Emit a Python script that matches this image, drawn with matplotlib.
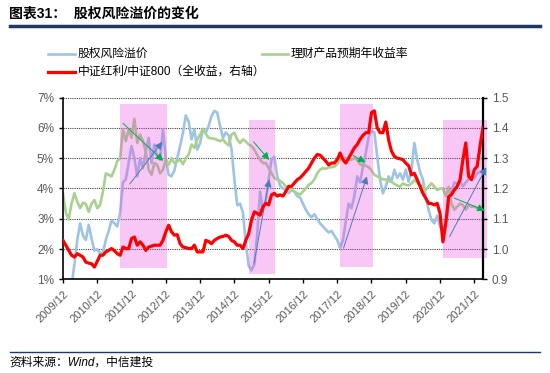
import numpy as np
import matplotlib.pyplot as plt
from matplotlib.lines import Line2D

plt.rcParams['font.family'] = ['Liberation Sans', 'Noto Sans CJK SC']

# monthly data, 2009/12 .. 2022/03
tick_labels = ["2009/12", "2010/12", "2011/12", "2012/12", "2013/12", "2014/12", "2015/12",
               "2016/12", "2017/12", "2018/12", "2019/12", "2020/12", "2021/12"]

# 股权风险溢价 (%)
erp = [0.2, 0.3, 0.5, 0.8, 1.5, 2.3, 2.85, 2.45, 2.3, 2.8,
       2.35, 1.95, 2.0, 1.85, 1.9, 2.3, 2.6, 2.95, 2.85, 2.75,
       3.2, 4.2, 4.3, 4.84, 5.4, 5.0, 4.4, 5.0, 4.67, 5.23,
       5.67, 4.84, 5.45, 5.06, 4.95, 5.95, 5.0, 4.45, 4.4, 4.6,
       5.0, 5.4, 5.84, 6.41, 6.2, 5.62, 5.95, 5.28, 5.5, 5.95,
       5.84, 6.06, 6.39, 6.56, 6.5, 6.06, 5.67, 5.85, 5.75, 5.3,
       4.3, 3.45, 3.5, 3.2, 2.2, 1.45, 1.3, 1.5, 2.5, 3.9,
       3.3, 3.6, 4.3, 4.95, 5.05, 4.4, 4.1, 4.0, 3.95, 3.85,
       3.95, 3.9, 3.75, 3.7, 3.5, 3.3, 3.15, 3.05, 3.15, 3.0,
       2.85, 2.75, 2.65, 2.55, 2.6, 2.45, 2.3, 2.05, 2.3, 2.9,
       3.5, 3.35, 3.75, 4.4, 4.2, 4.7, 5.17, 5.7, 5.9, 5.85,
       5.06, 4.29, 3.84, 4.07, 4.4, 4.23, 4.62, 4.35, 4.5, 4.29,
       4.62, 4.23, 4.6, 5.5, 4.95, 4.55, 4.3, 3.73, 3.29, 2.96,
       2.85, 3.1, 2.74, 2.57, 2.85, 3.4, 3.9, 4.2, 4.15, 4.25,
       4.07, 4.2, 4.3, 4.4, 4.35, 4.5, 4.55, 4.6]

# 理财产品预期年收益率 (%)
wealth_yield = [3.84, 3.2, 2.98, 3.5, 3.84, 3.57, 3.35, 3.53, 3.49, 3.23,
                3.5, 3.62, 3.35, 3.46, 3.9, 4.5, 4.45, 4.4, 4.62, 4.9,
                5.0, 5.95, 5.56, 5.95, 5.67, 6.3, 5.5, 5.78, 5.56, 5.2,
                4.62, 4.45, 4.84, 4.78, 4.5, 4.62, 4.95, 4.78, 5.0, 4.84,
                4.9, 4.95, 4.8, 5.0, 5.12, 5.45, 5.34, 5.62, 5.78, 5.97,
                5.8, 5.67, 5.65, 5.64, 5.6, 5.56, 5.62, 5.5, 5.42, 5.78,
                5.84, 5.62, 5.5, 5.62, 5.55, 5.45, 5.4, 5.28, 5.1, 4.95,
                4.84, 4.84, 4.67, 4.5, 4.35, 4.29, 4.25, 4.18, 4.07, 4.0,
                3.95, 3.9, 3.84, 3.8, 3.9, 4.0, 4.12, 4.18, 4.3, 4.5,
                4.62, 4.67, 4.65, 4.7, 4.7, 4.72, 4.8, 4.95, 5.0, 5.0,
                4.95, 4.95, 5.0, 4.95, 4.8, 4.75, 4.75, 4.7, 4.6, 4.45,
                4.4, 4.35, 4.3, 4.3, 4.25, 4.22, 4.15, 4.1, 4.06, 4.17,
                4.12, 4.1, 4.17, 4.28, 4.2, 4.1, 4.06, 3.95, 4.06, 4.17,
                4.06, 3.95, 4.0, 4.0, 3.75, 4.05, 3.5, 3.3, 3.4, 3.5,
                3.45, 3.3, 3.45, 3.4, 3.4, 3.35, 3.38, 3.35]

# 中证红利/中证800 (全收益, 右轴)
div_ratio = [1.029, 1.013, 0.996, 0.98, 0.974, 0.985, 0.98, 0.974, 0.957, 0.954,
             0.952, 0.941, 0.96, 0.98, 0.98, 0.991, 0.996, 1.002, 0.995, 0.985,
             0.98, 1.007, 1.002, 1.002, 1.035, 1.04, 1.013, 1.024, 1.013, 0.996,
             1.007, 1.01, 1.013, 1.013, 1.013, 1.029, 1.057, 1.079, 1.057, 1.046,
             1.048, 1.018, 1.007, 1.005, 1.002, 1.002, 1.013, 0.991, 0.991, 0.991,
             1.029, 1.025, 1.018, 1.029, 1.035, 1.04, 1.042, 1.046, 1.042, 1.029,
             1.024, 1.013, 1.013, 1.002, 1.029, 1.051, 1.096, 1.123, 1.118, 1.112,
             1.14, 1.151, 1.146, 1.179, 1.184, 1.175, 1.179, 1.175, 1.19, 1.207,
             1.207, 1.218, 1.229, 1.235, 1.245, 1.256, 1.267, 1.284, 1.30, 1.312,
             1.31, 1.30, 1.29, 1.278, 1.284, 1.284, 1.295, 1.317, 1.295, 1.284,
             1.30, 1.317, 1.334, 1.345, 1.362, 1.375, 1.384, 1.384, 1.45, 1.456,
             1.40, 1.384, 1.384, 1.419, 1.36, 1.323, 1.306, 1.30, 1.298, 1.295,
             1.284, 1.275, 1.245, 1.25, 1.229, 1.207, 1.184, 1.168, 1.151, 1.15,
             1.146, 1.151, 1.118, 1.024, 1.085, 1.173, 1.18, 1.195, 1.207, 1.229,
             1.295, 1.35, 1.24, 1.229, 1.262, 1.273, 1.34, 1.40]

# shaded periods (month index) and their vertical extent (%)
shade_start = [19.9, 65.2, 97.1, 133.2]
shade_end = [36.4, 74.3, 108.5, 148.4]
shade_low = [1.37, 1.18, 1.42, 1.72]
shade_high = [6.78, 6.26, 6.78, 6.26]

# trend arrows (start, end) in (month, %)
green_arrows = [((21.0, 6.15), (35.1, 4.91)), ((66.7, 5.54), (72.2, 4.94)),
                ((101.4, 5.10), (105.9, 4.86)), ((137.1, 3.68), (147.7, 3.27))]
blue_arrows = [((23.4, 4.15), (34.8, 5.54)), ((66.9, 1.54), (72.2, 4.30)),
               ((98.2, 2.03), (106.4, 4.40)), ((135.3, 2.41), (148.2, 4.70))]

months = np.arange(len(erp))

fig = plt.figure(figsize=(5.5, 3.73), dpi=100)
ax = fig.add_axes([0.1145, 0.2507, 0.7635, 0.4879])

ax.plot(months, erp, color='#9dc3e6', lw=1.9, zorder=2)
ax.plot(months, wealth_yield, color='#a9d18e', lw=1.9, zorder=2)

for s, e, lo, hi in zip(shade_start, shade_end, shade_low, shade_high):
    ax.fill_between([s, e], lo, hi, color='#ee48de', alpha=0.3, lw=0,
                    zorder=3, clip_on=False)

ax.set_xlim(0, 147)
ax.set_ylim(1, 7)
ax.set_yticks(range(1, 8))
ax.set_yticklabels([f"{v}%" for v in range(1, 8)])
ax.set_xticks(range(0, 145, 12))
ax.set_xticklabels(tick_labels, rotation=45, ha='right', rotation_mode='anchor')
ax.yaxis.grid(True, ls=(0, (1, 1)), color='#404040', lw=0.8)
ax.set_axisbelow(True)
ax.tick_params(axis='both', direction='out', length=3, width=1,
               labelcolor='#595959', labelsize=8.5)
ax.tick_params(axis='x', labelsize=8)
for side in ['top', 'right']:
    ax.spines[side].set_visible(False)
for side in ['left', 'bottom']:
    ax.spines[side].set_linewidth(1.2)

ax2 = ax.twinx()
ax2.plot(months, div_ratio, color='#ff0000', lw=2.3, zorder=4)
ax2.set_ylim(0.9, 1.5)
ax2.set_yticks([0.9, 1.0, 1.1, 1.2, 1.3, 1.4, 1.5])
ax2.set_yticklabels([f"{v:.1f}" for v in [0.9, 1.0, 1.1, 1.2, 1.3, 1.4, 1.5]])
ax2.tick_params(axis='y', direction='out', length=3, width=1,
                labelcolor='#595959', labelsize=8.5)
for side in ['top', 'left', 'bottom']:
    ax2.spines[side].set_visible(False)
ax2.spines['right'].set_linewidth(1.6)

for (x0, y0), (x1, y1) in green_arrows:
    ax2.annotate('', xy=(x1, y1), xytext=(x0, y0), xycoords=ax.transData,
                 textcoords=ax.transData, annotation_clip=False,
                 arrowprops=dict(arrowstyle='-|>', color='#00b050', lw=0.7,
                                 mutation_scale=11, shrinkA=0, shrinkB=0))
for (x0, y0), (x1, y1) in blue_arrows:
    ax2.annotate('', xy=(x1, y1), xytext=(x0, y0), xycoords=ax.transData,
                 textcoords=ax.transData, annotation_clip=False,
                 arrowprops=dict(arrowstyle='-|>', color='#4a7ebb', lw=0.7,
                                 mutation_scale=11, shrinkA=0, shrinkB=0))

# title and header rule
fig.text(0.016, 0.963, "图表31：  股权风险溢价的变化", fontsize=10,
         fontweight='bold', va='center', color='black')
fig.add_artist(Line2D([0.018, 0.982], [0.930, 0.930], color='#1f3864', lw=2.5))

# legend
fig.add_artist(Line2D([0.087, 0.136], [0.855, 0.855], color='#9dc3e6', lw=1.9))
fig.text(0.141, 0.855, "股权风险溢价", fontsize=8.5, va='center')
fig.add_artist(Line2D([0.476, 0.524], [0.855, 0.855], color='#a9d18e', lw=1.9))
fig.text(0.529, 0.855, "理财产品预期年收益率", fontsize=8.5, va='center')
fig.add_artist(Line2D([0.087, 0.136], [0.807, 0.807], color='#ff0000', lw=2.3))
fig.text(0.141, 0.807, "中证红利/中证800（全收益，右轴）", fontsize=8.5, va='center')

# footer
fig.add_artist(Line2D([0.018, 0.982], [0.056, 0.056], color='#1f3864', lw=1.0))
fig.text(0.018, 0.027, "资料来源：Wind，中信建投", fontsize=8.5, style='italic',
         va='center')

fig.savefig("out.png", dpi=100)
